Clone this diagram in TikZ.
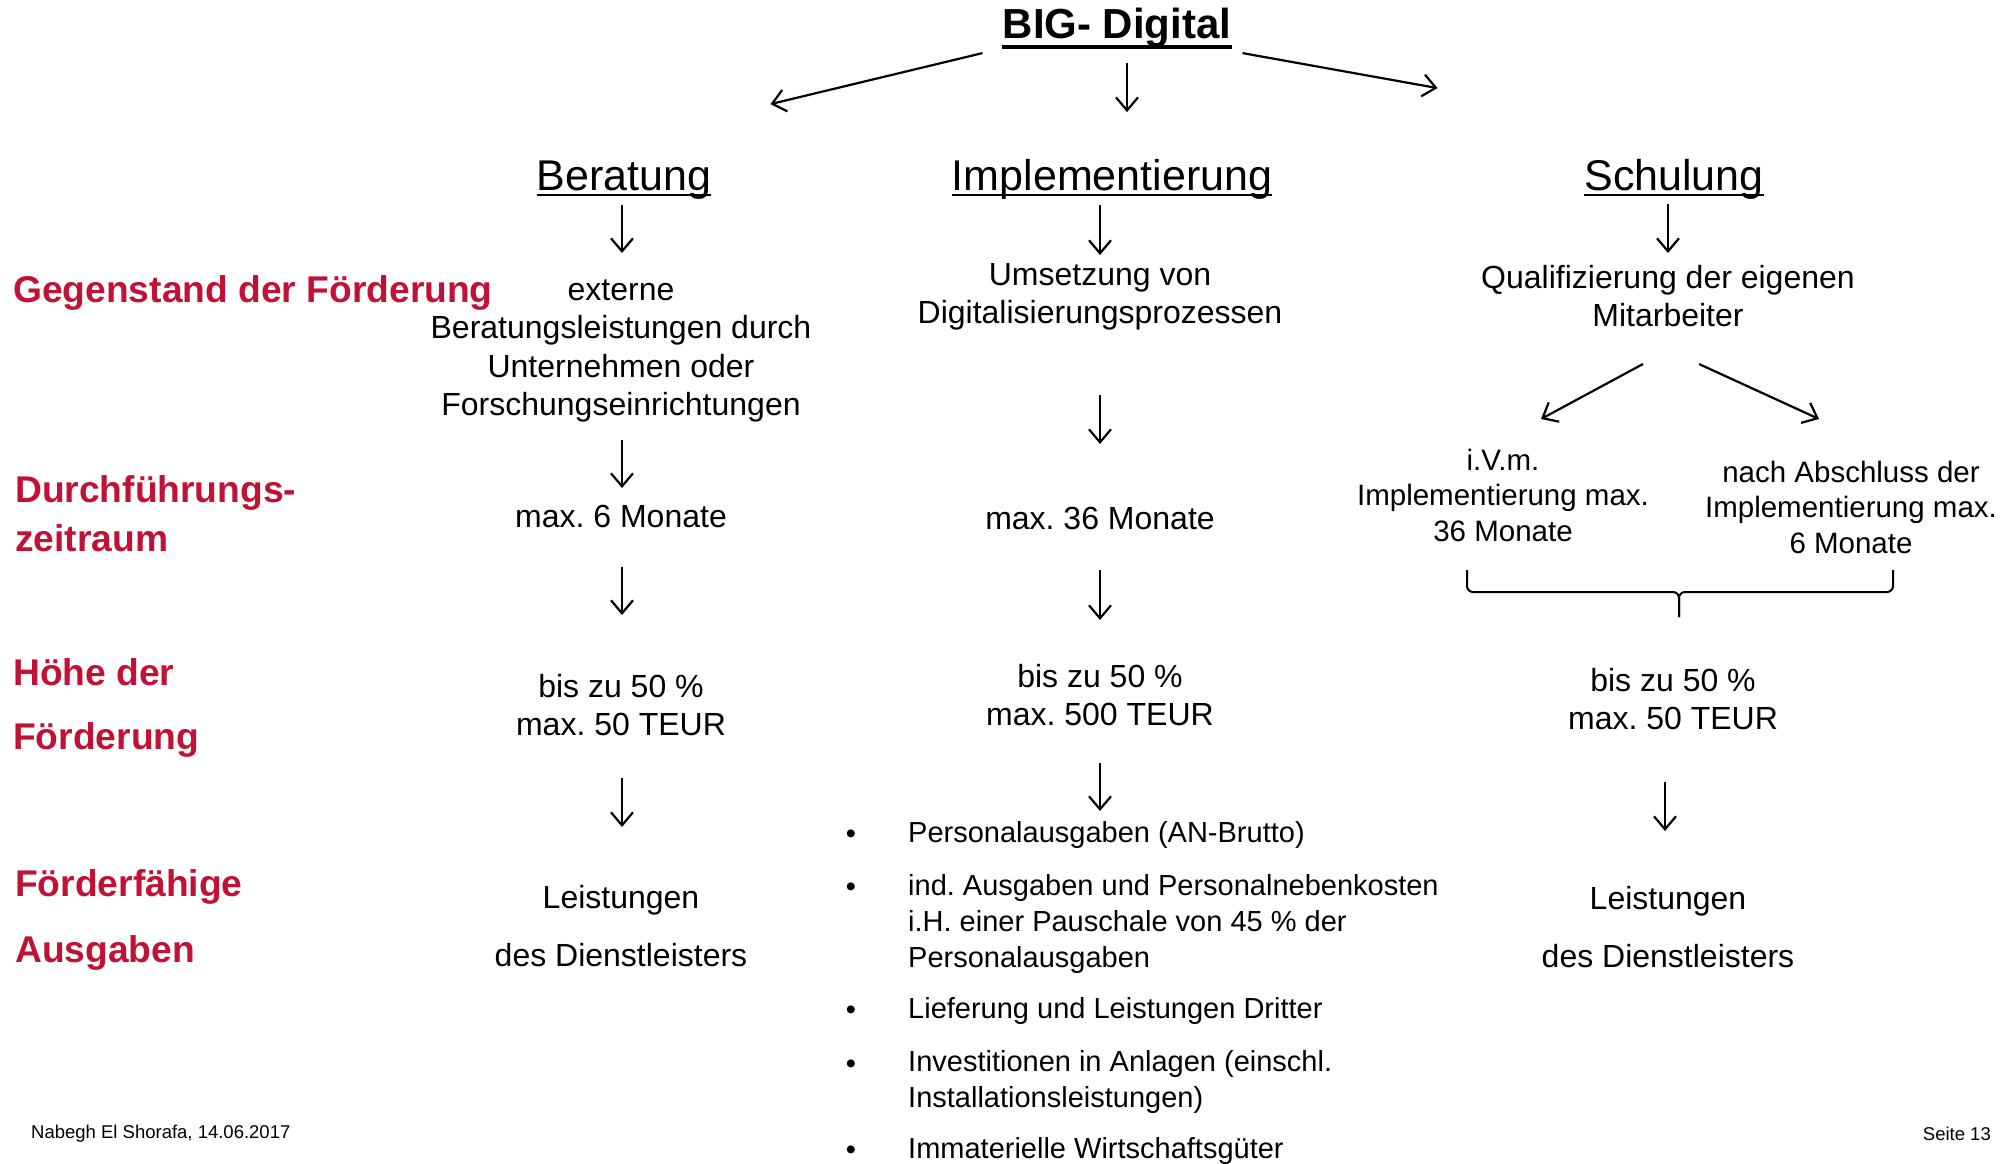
\documentclass[tikz,border=0pt]{standalone}
\usepackage{fontspec}
\setmainfont{Liberation Sans}
\usetikzlibrary{arrows.meta}
\definecolor{foerderrot}{RGB}{193,18,54}
\frenchspacing

\tikzset{
  pfeil/.style={line width=2.2pt, -{Straight Barb[length=13pt,width=22pt]}},
  titel/.style={font=\fontsize{42}{50}\selectfont\bfseries, inner sep=0pt, anchor=base},
  kopf/.style={font=\fontsize{43}{52}\selectfont, inner sep=0pt, anchor=base},
  kriterium/.style={font=\fontsize{37.2}{44}\selectfont\bfseries, text=foerderrot, inner sep=0pt, anchor=west},
  inhalt/.style={font=\fontsize{32}{38.5}\selectfont, align=center, inner sep=0pt},
  inhaltweit/.style={font=\fontsize{32}{58}\selectfont, align=center, inner sep=0pt},
  klein/.style={font=\fontsize{29.5}{35.5}\selectfont, align=center, inner sep=0pt},
  liste/.style={font=\fontsize{29}{36}\selectfont, align=left, inner sep=0pt, anchor=west},
  punkt/.style={font=\fontsize{29}{36}\selectfont, inner sep=0pt, anchor=base},
  fuss/.style={font=\fontsize{18.5}{22}\selectfont, inner sep=0pt}
}

\begin{document}
\begin{tikzpicture}[x=1pt, y=-1pt]
\path[use as bounding box, fill=white] (0,0) rectangle (2010,1163);

% Titel
\node[titel] (big) at (1117,38) {BIG- Digital};
\draw[line width=4pt] ([yshift=-9pt]big.base west) -- ([yshift=-9pt]big.base east);
\draw[pfeil] ([shift={(-20,6)}]big.south west) -- ++(-212,51);
\draw[pfeil] ([shift={(10,16)}]big.south) -- ++(0,49);
\draw[pfeil] ([shift={(11,6)}]big.south east) -- ++(195,35);

% Spaltenkoepfe
\node[kopf] (beratung) at (624,190) {Beratung};
\node[kopf] (impl) at (1112,190) {Implementierung};
\node[kopf] (schulung) at (1674,190) {Schulung};
\draw[line width=2.5pt] ([yshift=-5pt]beratung.base west) -- ([yshift=-5pt]beratung.base east);
\draw[line width=2.5pt] ([yshift=-5pt]impl.base west) -- ([yshift=-5pt]impl.base east);
\draw[line width=2.5pt] ([yshift=-5pt]schulung.base west) -- ([yshift=-5pt]schulung.base east);

% Kriterien links
\node[kriterium] (gegenstand) at (13,293) {Gegenstand der Förderung};
\node[kriterium] (zeit1) at (15,493) {Durchführungs-};
\node[kriterium] (zeit2) at (15,538) {zeitraum};
\node[kriterium] (hoehe1) at (13,672) {Höhe der};
\node[kriterium] (hoehe2) at (13,740) {Förderung};
\node[kriterium] (ausgaben1) at (15,887) {Förderfähige};
\node[kriterium] (ausgaben2) at (15,953) {Ausgaben};

% Beratung
\draw[pfeil] (beratung.base) ++(-2,15) -- ++(0,48);
\node[inhalt] (beragegen) at (621,351) {externe\\Beratungsleistungen durch\\Unternehmen oder\\Forschungseinrichtungen};
\draw[pfeil] (beragegen) ++(1,89) -- ++(0,48);
\node[inhalt] (berazeit) at (621,516) {max. 6 Monate};
\draw[pfeil] (berazeit) ++(1,51) -- ++(0,48);
\node[inhalt] (berahoehe) at (621,705) {bis zu 50 \%\\max. 50 TEUR};
\draw[pfeil] (berahoehe) ++(1,73) -- ++(0,49);
\node[inhaltweit] (beraaus) at (621,926) {Leistungen\\des Dienstleisters};

% Implementierung
\draw[pfeil] (impl.base) ++(-12,15) -- ++(0,50);
\node[inhalt] (implgegen) at (1100,297) {Umsetzung von\\Digitalisierungsprozessen};
\draw[pfeil] (implgegen) ++(0,98) -- ++(0,49);
\node[inhalt] (implzeit) at (1100,518) {max. 36 Monate};
\draw[pfeil] (implzeit) ++(0,52) -- ++(0,50);
\node[inhalt] (implhoehe) at (1100,695) {bis zu 50 \%\\max. 500 TEUR};
\draw[pfeil] (implhoehe) ++(0,68) -- ++(0,48);
\node[punkt] (b1) at (851,843) {•};
\node[liste] (p1) at (908,835) {Personalausgaben (AN-Brutto)};
\node[punkt] (b2) at (851,896) {•};
\node[liste] (p2) at (908,924) {ind. Ausgaben und Personalnebenkosten\\i.H. einer Pauschale von 45 \% der\\Personalausgaben};
\node[punkt] (b3) at (851,1019) {•};
\node[liste] (p3) at (908,1011) {Lieferung und Leistungen Dritter};
\node[punkt] (b4) at (851,1073) {•};
\node[liste] (p4) at (908,1082) {Investitionen in Anlagen (einschl.\\Installationsleistungen)};
\node[punkt] (b5) at (851,1159) {•};
\node[liste] (p5) at (908,1151) {Immaterielle Wirtschaftsgüter};

% Schulung
\draw[pfeil] (schulung.base) ++(-6,14) -- ++(0,49);
\node[inhalt] (schulgegen) at (1668,296) {Qualifizierung der eigenen\\Mitarbeiter};
\draw[pfeil] (schulgegen) ++(-25,68) -- ++(-102,55);
\draw[pfeil] (schulgegen) ++(31,68) -- ++(120,55);
\node[klein] (ivm) at (1503,495) {i.V.m.\\Implementierung max.\\36 Monate};
\node[klein] (nach) at (1851,507) {nach Abschluss der\\Implementierung max.\\6 Monate};
\draw[line width=2pt, rounded corners=6pt] (1467,570) -- (1467,592) -- (1679,592) -- (1679,617);
\draw[line width=2pt, rounded corners=6pt] (1893,570) -- (1893,592) -- (1679,592) -- (1679,617);
\node[inhalt] (schulhoehe) at (1673,699) {bis zu 50 \%\\max. 50 TEUR};
\draw[pfeil] (schulhoehe) ++(-8,83) -- ++(0,49);
\node[inhaltweit] (schulaus) at (1668,927) {Leistungen\\des Dienstleisters};

% Fusszeile
\node[fuss, anchor=west] (autor) at (31,1134) {Nabegh El Shorafa, 14.06.2017};
\node[fuss, anchor=east] (seite) at (1991,1134) {Seite 13};
\end{tikzpicture}
\end{document}
